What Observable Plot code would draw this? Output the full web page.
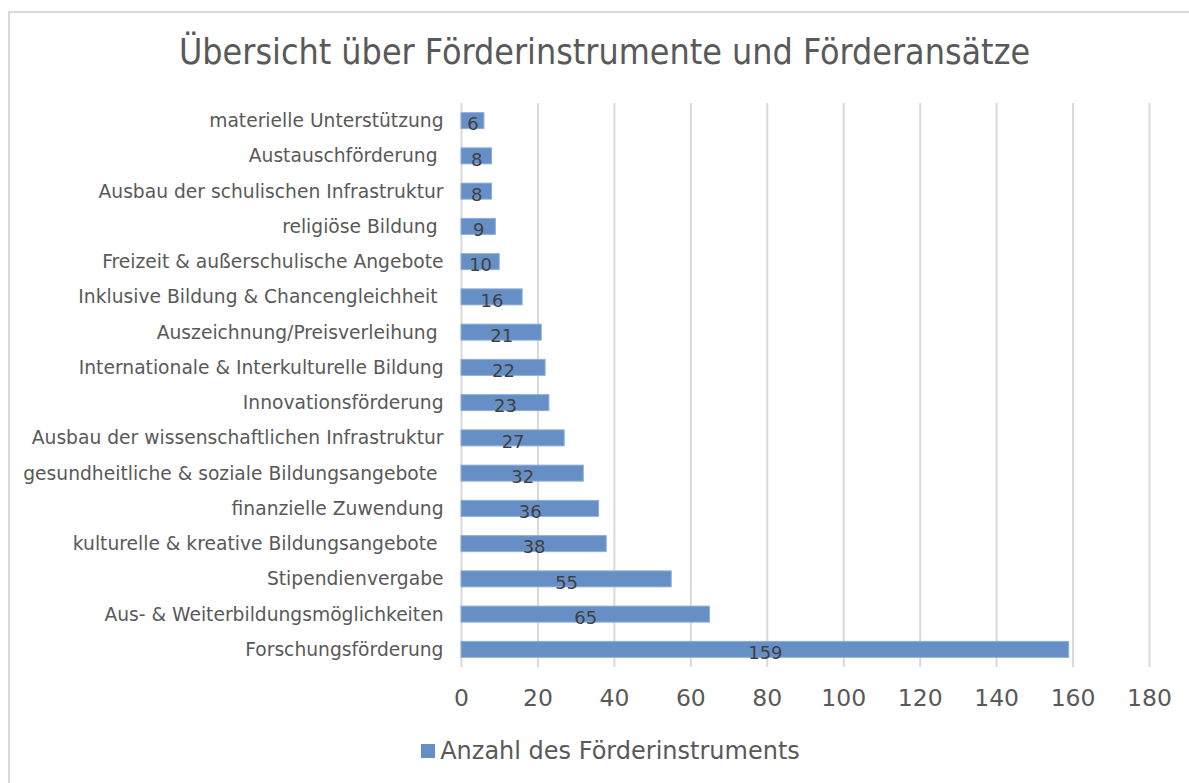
<!DOCTYPE html>
<html>
<head>
<meta charset="utf-8">
<script src="https://cdn.jsdelivr.net/npm/d3@7"></script>
<script src="https://cdn.jsdelivr.net/npm/@observablehq/plot@0.6"></script>
<style>
  html, body { margin: 0; padding: 0; background: #fff; }
  #frame { position: absolute; left: 8px; top: 11px; width: 1200px; height: 800px;
           border: 2px solid #d9d9d9; box-sizing: border-box; }
  #title { position: absolute; left: 10px; top: 0; width: 1189px; height: 95px;
           font-family: "DejaVu Sans Condensed", "DejaVu Sans"; font-size: 35.5px; color: #595959;
           text-align: center; line-height: 1; padding-top: 34px; box-sizing: border-box; }
  #chart { position: absolute; left: 0; top: 95px; }
  #legend { position: absolute; left: 16px; top: 737px; width: 1189px; text-align: center;
            font-family: "DejaVu Sans"; font-size: 24px; color: #595959; line-height: 1.2; }
  #legend .sw { display: inline-block; width: 14px; height: 14px; background: #6690c5; margin-right: 5px; vertical-align: 1px; }
</style>
</head>
<body>
<div id="frame"></div>
<div id="title">Übersicht über Förderinstrumente und Förderansätze</div>
<div id="chart"></div>
<div id="legend"><span class="sw"></span>Anzahl des Förderinstruments</div>
<script>
const categories = [
  "materielle Unterstützung",
  "Austauschförderung ",
  "Ausbau der schulischen Infrastruktur",
  "religiöse Bildung ",
  "Freizeit & außerschulische Angebote",
  "Inklusive Bildung & Chancengleichheit ",
  "Auszeichnung/Preisverleihung ",
  "Internationale & Interkulturelle Bildung",
  "Innovationsförderung",
  "Ausbau der wissenschaftlichen Infrastruktur",
  "gesundheitliche & soziale Bildungsangebote ",
  "finanzielle Zuwendung",
  "kulturelle & kreative Bildungsangebote ",
  "Stipendienvergabe",
  "Aus- & Weiterbildungsmöglichkeiten",
  "Forschungsförderung"
];
const values = [6, 8, 8, 9, 10, 16, 21, 22, 23, 27, 32, 36, 38, 55, 65, 159];
const xTicks = [0, 20, 40, 60, 80, 100, 120, 140, 160, 180];

const data = categories.map((c, i) => ({category: c, value: values[i]}));

const plot = Plot.plot({
  width: 1189,
  height: 640,
  marginLeft: 461,
  marginRight: 40,
  marginTop: 8,
  marginBottom: 68,
  style: {fontFamily: "DejaVu Sans", background: "transparent"},
  x: {domain: [0, 180], ticks: xTicks, label: null},
  y: {domain: categories, label: null, paddingInner: 0.546, paddingOuter: 0.273, round: false},
  marks: [
    Plot.gridX(xTicks, {stroke: "#d9d9d9", strokeOpacity: 1, strokeWidth: 2}),
    Plot.barX(data, {y: "category", x: "value", fill: "#6690c5", stroke: "#8eaedb", strokeWidth: 1}),
    Plot.text(data, {y: "category", x: d => d.value / 2, text: d => String(d.value),
      fill: "#404040", fontSize: 18, dy: 3.5}),
    Plot.axisX(xTicks, {tickSize: 0, tickPadding: 22, fontSize: 23.5, color: "#595959", label: null}),
    Plot.axisY({tickSize: 0, tickPadding: 18, fontSize: 18.7, color: "#595959", label: null,
      tickFormat: d => d})
  ]
});
document.getElementById("chart").appendChild(plot);
</script>
</body>
</html>
